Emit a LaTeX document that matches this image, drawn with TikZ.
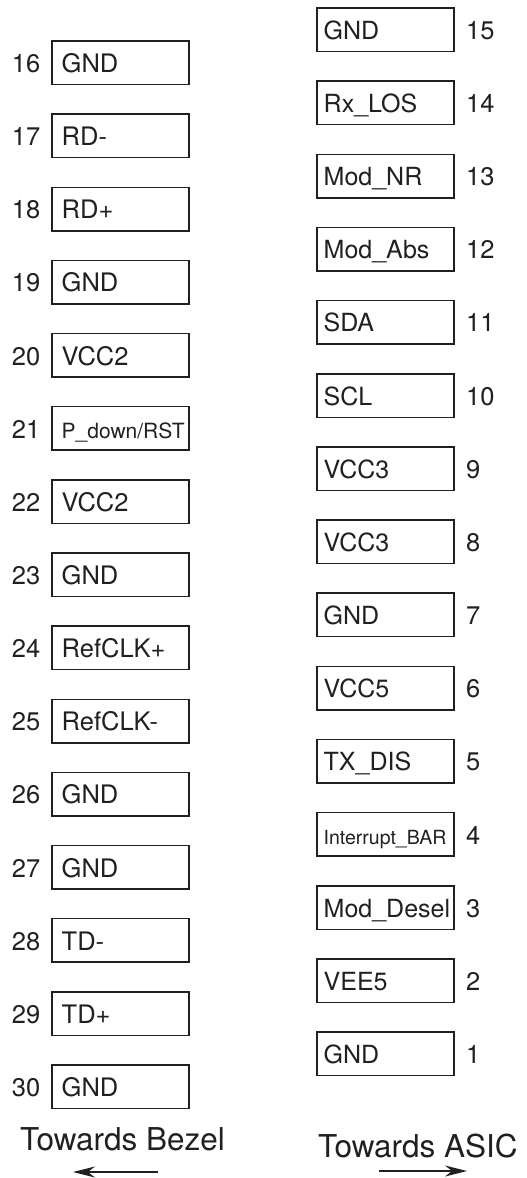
\documentclass[tikz,border=0pt]{standalone}
\usepackage{fontspec}
\setmainfont{TeX Gyre Heros}
\usetikzlibrary{arrows.meta}
\definecolor{ink}{RGB}{35,31,32}
\begin{document}
\begin{tikzpicture}[x=1pt,y=-1pt,
  pinbox/.style={draw=ink,line width=1.5pt,rectangle,minimum width=137pt,minimum height=43.5pt,inner sep=0pt},
  lbl/.style={text=ink,inner sep=0pt,anchor=base west,font=\fontsize{25.5}{30}\selectfont},
  rlbl/.style={text=ink,inner sep=0pt,anchor=base west,font=\fontsize{25}{30}\selectfont},
  num/.style={text=ink,inner sep=0pt,font=\fontsize{25.5}{30}\selectfont},
  dirtext/.style={text=ink,inner sep=0pt,anchor=base west,font=\fontsize{31.5}{36}\selectfont},
  dirarrow/.style={draw=ink,line width=1.5pt,-{Stealth[length=22pt,width=11pt]}}]
\useasboundingbox (0,0) rectangle (527,1178);
% left column (pins 16-30)
\foreach \n/\t/\s [count=\i from 0] in {16/GND/25.5,17/RD-/25.5,18/RD+/25.5,19/GND/25.5,20/VCC2/25.5,21/{P\_down/RST}/21,22/VCC2/25.5,23/GND/25.5,24/RefCLK+/25.5,25/RefCLK-/25.5,26/GND/25.5,27/GND/25.5,28/TD-/25.5,29/TD+/25.5,30/GND/25.5}{
  \pgfmathsetmacro{\cy}{62.75+73.14*\i}
  \node[pinbox] (L\n) at (120.5,\cy) {};
  \node[lbl,font=\fontsize{\s}{30}\selectfont] (L\n t) at (61.5,\cy+9.8) {\t};
  \node[num,anchor=base east] (L\n n) at (40.5,\cy+9.8) {\n};
}
% right column (pins 15-1)
\foreach \n/\t/\s [count=\i from 0] in {15/GND/25,14/Rx\_LOS/25,13/Mod\_NR/25,12/Mod\_Abs/25,11/SDA/25,10/SCL/25,9/VCC3/25,8/VCC3/25,7/GND/25,6/VCC5/25,5/TX\_DIS/25,4/Interrupt\_BAR/19.5,3/Mod\_Desel/25,2/VEE5/25,1/GND/25}{
  \pgfmathsetmacro{\cy}{29.75+73.15*\i}
  \node[pinbox] (R\n) at (385.5,\cy) {};
  \node[rlbl,font=\fontsize{\s}{30}\selectfont] (R\n t) at (323.5,\cy+9.6) {\t};
  \node[num,anchor=base west] (R\n n) at (466,\cy+9.6) {\n};
}
% direction labels
\node[dirtext] (bezel) at (20,1150) {Towards Bezel};
\node[dirtext] (asic) at (318,1157) {Towards ASIC};
\coordinate (bz1) at (158,1172);
\coordinate (bz2) at (73,1172);
\coordinate (as1) at (379,1171);
\coordinate (as2) at (467,1171);
\draw[dirarrow] (bz1) -- (bz2);
\draw[dirarrow] (as1) -- (as2);
\end{tikzpicture}
\end{document}
